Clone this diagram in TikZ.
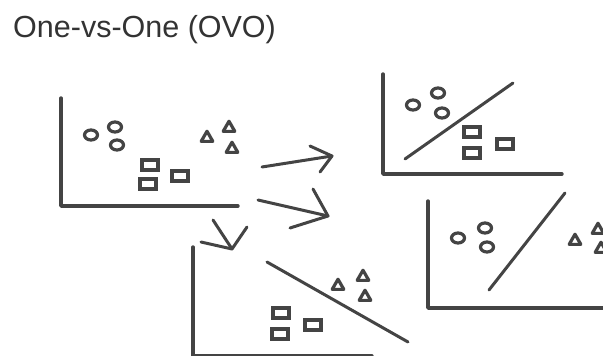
\documentclass[tikz,border=0pt]{standalone}
\usepackage{fontspec}
\setmainfont{Liberation Sans}
\usetikzlibrary{shapes.geometric}
\definecolor{ink}{HTML}{444444}
\definecolor{titleink}{HTML}{333333}
\tikzset{
  axis/.style={draw=ink, line width=3.4pt, line cap=round, line join=round},
  sep/.style={draw=ink, line width=3pt, line cap=round},
  arr/.style={draw=ink, line width=3pt, line cap=round, line join=round},
  circ/.style={ellipse, draw=ink, line width=3.2pt, minimum width=13pt, minimum height=10pt, inner sep=0pt},
  sq/.style={rectangle, draw=ink, line width=3.2pt, minimum width=16pt, minimum height=10pt, inner sep=0pt},
  tri/.style={regular polygon, regular polygon sides=3, draw=ink, line width=3.2pt, line join=round, minimum size=13.5pt, inner sep=0pt},
}
\begin{document}
\begin{tikzpicture}[x=1pt,y=-1pt]
\useasboundingbox (0,0) rectangle (603,356);
\node[anchor=base west, inner sep=0pt, text=titleink, font=\fontsize{30.5}{36}\selectfont] (title) at (13,37) {One-vs-One (OVO)};

% main panel
\draw[axis] (61,98) -- (61,206) -- (238,206);
\node[circ] (c1) at (91,135) {};
\node[circ] (c2) at (115,127) {};
\node[circ] (c3) at (117,145) {};
\node[sq] (s1) at (150,165) {};
\node[sq] (s2) at (148,184) {};
\node[sq] (s3) at (180,176) {};
\node[tri] (t1) at (207,138) {};
\node[tri] (t2) at (229,128) {};
\node[tri] (t3) at (232,149) {};

% arrows
\coordinate (a1s) at (262,167); \coordinate (a1t) at (332,156);
\coordinate (a1l) at (310,146); \coordinate (a1r) at (320,172);
\draw[arr] (a1s) -- (a1t);
\draw[arr] (a1l) -- (a1t) -- (a1r);
\coordinate (a2s) at (258,200); \coordinate (a2t) at (328,216);
\coordinate (a2l) at (313,189); \coordinate (a2r) at (290,228);
\draw[arr] (a2s) -- (a2t);
\draw[arr] (a2l) -- (a2t) -- (a2r);
\coordinate (a3s) at (213,220); \coordinate (a3t) at (232,249);
\coordinate (a3l) at (247,227); \coordinate (a3r) at (201,242);
\draw[arr] (a3s) -- (a3t);
\draw[arr] (a3l) -- (a3t) -- (a3r);

% top right panel
\draw[axis] (383,74) -- (383,174) -- (562,174);
\draw[sep] (405,159) -- (513,83);
\node[circ] (rc1) at (413,105) {};
\node[circ] (rc2) at (438,93) {};
\node[circ] (rc3) at (442,113) {};
\node[sq] (rs1) at (472,132) {};
\node[sq] (rs2) at (472,153) {};
\node[sq] (rs3) at (505,144) {};

% middle right panel
\draw[axis] (428,201) -- (428,308) -- (610,308);
\draw[sep] (489,290) -- (565,193);
\node[circ] (mc1) at (458,238) {};
\node[circ] (mc2) at (485,228) {};
\node[circ] (mc3) at (487,247) {};
\node[tri] (mt1) at (575,241) {};
\node[tri] (mt2) at (598,230) {};
\node[tri] (mt3) at (601,249) {};

% bottom panel
\draw[axis] (193,247) -- (193,356) -- (372,356);
\draw[sep] (267,262) -- (408,342);
\node[tri] (bt1) at (338,286) {};
\node[tri] (bt2) at (363,277) {};
\node[tri] (bt3) at (365,297) {};
\node[sq] (bs1) at (281,313) {};
\node[sq] (bs2) at (280,334) {};
\node[sq] (bs3) at (313,325) {};
\end{tikzpicture}
\end{document}
